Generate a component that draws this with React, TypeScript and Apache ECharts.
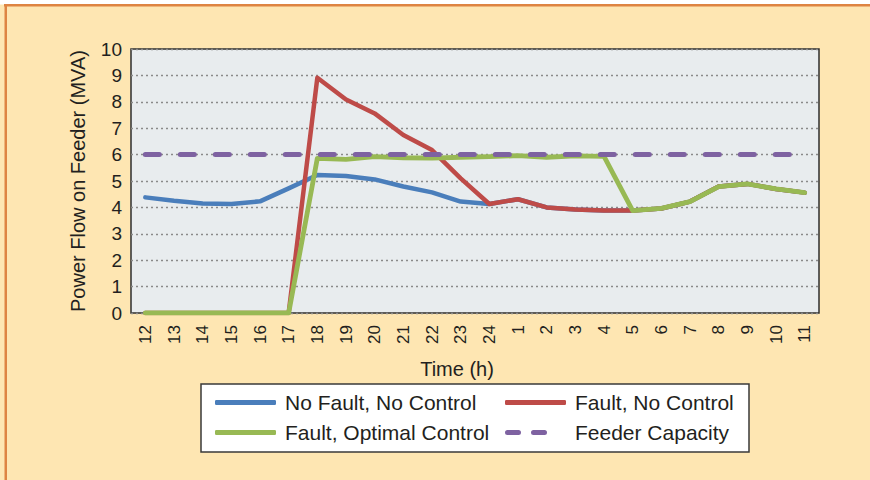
import React, { useEffect, useRef } from "react";
import * as echarts from "echarts";

const hours = ["12", "13", "14", "15", "16", "17", "18", "19", "20", "21", "22", "23", "24", "1", "2", "3", "4", "5", "6", "7", "8", "9", "10", "11"];
const noFaultNoControl = [4.38, 4.25, 4.15, 4.13, 4.23, 4.72, 5.23, 5.19, 5.06, 4.79, 4.57, 4.22, 4.13, 4.31, 4.0, 3.92, 3.88, 3.88, 3.96, 4.22, 4.79, 4.89, 4.7, 4.56];
const faultNoControl = [0, 0, 0, 0, 0, 0, 8.91, 8.09, 7.56, 6.74, 6.17, 5.1, 4.13, 4.31, 4.0, 3.92, 3.88, 3.88, 3.96, 4.22, 4.79, 4.89, 4.7, 4.56];
const faultOptimalControl = [0, 0, 0, 0, 0, 0, 5.86, 5.82, 5.92, 5.88, 5.87, 5.9, 5.92, 5.96, 5.9, 5.95, 5.93, 3.88, 3.96, 4.22, 4.79, 4.89, 4.7, 4.56];
const feederCapacity = [6, 6, 6, 6, 6, 6, 6, 6, 6, 6, 6, 6, 6, 6, 6, 6, 6, 6, 6, 6, 6, 6, 6, 6];
const yTicks = [0, 1, 2, 3, 4, 5, 6, 7, 8, 9, 10];

const FONT = "'Liberation Sans', Arial, Helvetica, sans-serif";
const TXT = "#231F20";
const C_BLUE = "#4A7EBB";
const C_RED = "#BE4B48";
const C_GREEN = "#98B954";
const C_PURPLE = "#7E62A1";

const DASH_ICON =
  "path://M2.5,0 H13.5 A2.5,2.5 0 0 1 13.5,5 H2.5 A2.5,2.5 0 0 1 2.5,0 Z M28.5,0 H39.5 A2.5,2.5 0 0 1 39.5,5 H28.5 A2.5,2.5 0 0 1 28.5,0 Z";

export default function App() {
  const ref = useRef<HTMLDivElement>(null);
  useEffect(() => {
    if (!ref.current) return;
    const chart = echarts.init(ref.current, undefined, { renderer: "svg" });
    const legendBase = {
      orient: "horizontal",
      padding: 0,
      itemWidth: 61,
      itemHeight: 5,
      icon: "roundRect",
      selectedMode: false,
      textStyle: { fontFamily: FONT, fontSize: 21, color: TXT, padding: [0, 0, 0, 4] },
    };
    chart.setOption({
      animation: false,
      backgroundColor: "#FEE6B2",
      textStyle: { fontFamily: FONT },
      graphic: [
        { type: "rect", shape: { x: 0, y: 0, width: 870, height: 4.5 }, style: { fill: "#FFFFFF" }, z: 0 },
        { type: "rect", shape: { x: 4, y: 4, width: 866, height: 2.5 }, style: { fill: "#DE8442" }, z: 1 },
        { type: "rect", shape: { x: 4.5, y: 4, width: 2.5, height: 476 }, style: { fill: "#DE8442" }, z: 1 },
        {
          type: "rect",
          shape: { x: 201, y: 384, width: 548, height: 68 },
          style: { fill: "#FFFFFF", stroke: "#3A3A3A", lineWidth: 1.5 },
          z: 1,
        },
      ],
      grid: {
        left: 131,
        right: 51,
        top: 49,
        bottom: 167,
        show: true,
        backgroundColor: "#E8ECEE",
        borderColor: "#2E2E2E",
        borderWidth: 1.5,
        containLabel: false,
      },
      legend: [
        { ...legendBase, left: 215, top: 392, data: [{ name: "No Fault, No Control" }] },
        { ...legendBase, left: 505, top: 392, data: [{ name: "Fault, No Control" }] },
        { ...legendBase, left: 215, top: 422, data: [{ name: "Fault, Optimal Control" }] },
        {
          ...legendBase,
          left: 505,
          top: 422,
          itemWidth: 42,
          icon: DASH_ICON,
          textStyle: { ...legendBase.textStyle, padding: [0, 0, 0, 23] },
          data: [{ name: "Feeder Capacity" }],
        },
      ],
      xAxis: {
        type: "category",
        data: hours,
        boundaryGap: true,
        name: "Time (h)",
        nameLocation: "middle",
        nameGap: 46,
        nameTextStyle: { fontFamily: FONT, fontSize: 20, color: TXT, padding: [0, 36, 0, 0] },
        axisLine: { show: false },
        axisTick: { show: false },
        axisLabel: { rotate: 90, margin: 12, fontFamily: FONT, fontSize: 17, color: TXT, interval: 0 },
        splitLine: { show: false },
      },
      yAxis: {
        type: "value",
        min: yTicks[0],
        max: yTicks[yTicks.length - 1],
        interval: 1,
        name: "Power Flow on Feeder (MVA)",
        nameLocation: "middle",
        nameGap: 43,
        nameTextStyle: { fontFamily: FONT, fontSize: 20, color: TXT },
        axisLine: { show: false },
        axisTick: { show: false },
        axisLabel: { margin: 9, fontFamily: FONT, fontSize: 19, color: TXT },
        splitLine: { show: true, lineStyle: { color: "#8A8A8A", width: 1.3, type: [2, 3] } },
      },
      series: [
        {
          name: "No Fault, No Control",
          type: "line",
          data: noFaultNoControl,
          symbol: "none",
          color: C_BLUE,
          lineStyle: { color: C_BLUE, width: 4.5, cap: "round", join: "round" },
          z: 2,
        },
        {
          name: "Fault, No Control",
          type: "line",
          data: faultNoControl,
          symbol: "none",
          color: C_RED,
          lineStyle: { color: C_RED, width: 4.5, cap: "round", join: "round" },
          z: 3,
        },
        {
          name: "Fault, Optimal Control",
          type: "line",
          data: faultOptimalControl,
          symbol: "none",
          color: C_GREEN,
          lineStyle: { color: C_GREEN, width: 4.8, cap: "round", join: "round" },
          z: 4,
        },
        {
          name: "Feeder Capacity",
          type: "line",
          data: feederCapacity,
          symbol: "none",
          color: C_PURPLE,
          lineStyle: { color: C_PURPLE, width: 5, type: [14, 21], cap: "round" },
          z: 5,
        },
      ],
    });
    return () => chart.dispose();
  }, []);
  return (
    <div style={{ position: "absolute", left: 0, top: 0, width: 870, height: 480 }}>
      <div ref={ref} style={{ width: 870, height: 480 }} />
    </div>
  );
}
